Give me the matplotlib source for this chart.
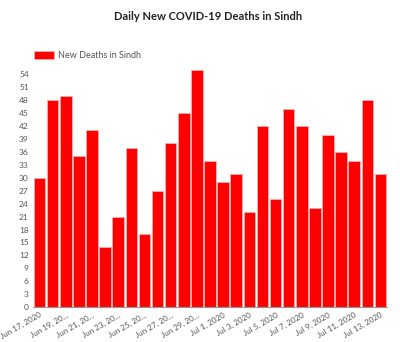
import matplotlib
matplotlib.use("Agg")
import matplotlib.pyplot as plt

deaths = [30, 48, 49, 35, 41, 14, 21, 37, 17, 27, 38, 45, 55, 34, 29, 31,
          22, 42, 25, 46, 42, 23, 40, 36, 34, 48, 31]
tick_labels = ["Jun 17, 2020", "Jun 19, 20...", "Jun 21, 20...", "Jun 23, 20...",
               "Jun 25, 20...", "Jun 27, 20...", "Jun 29, 20...", "Jul 1, 2020",
               "Jul 3, 2020", "Jul 5, 2020", "Jul 7, 2020", "Jul 9, 2020",
               "Jul 11, 2020", "Jul 13, 2020"]
yticks = list(range(0, 55, 3))

plt.rcParams['font.family'] = ['Lato', 'DejaVu Sans']

fig = plt.figure(figsize=(4, 3.42), dpi=100)
ax = fig.add_axes([0.0825, 0.102, 0.885, 0.693])

x = list(range(len(deaths)))
ax.bar(x, deaths, width=0.88, color='#ff0000', edgecolor='#ffb0b0', linewidth=0.6,
       label='New Deaths in Sindh')
ax.set_xlim(-0.5, len(deaths) - 0.5)
ax.set_ylim(0, 55)
ax.set_yticks(yticks)
ax.set_yticklabels([str(v) for v in yticks], fontsize=6, color='#555555')
ax.set_xticks(x[::2])
ax.set_xticklabels(tick_labels, rotation=30, ha='right', rotation_mode='anchor',
                   fontsize=5.8, color='#555555')
ax.tick_params(length=0, pad=3)
for s in ['top', 'right', 'left']:
    ax.spines[s].set_visible(False)
ax.spines['bottom'].set_color('#999999')
ax.spines['bottom'].set_linewidth(0.8)

fig.text(0.52, 0.953, 'Daily New COVID-19 Deaths in Sindh', ha='center', va='center',
         fontsize=8, color='#222222', fontweight='bold')
fig.legend(loc='upper left', bbox_to_anchor=(0.065, 0.875), frameon=False, fontsize=6.5,
           handlelength=2.2, handleheight=0.9, handletextpad=0.4, labelcolor='#555555')

fig.savefig('out.png', dpi=100)
